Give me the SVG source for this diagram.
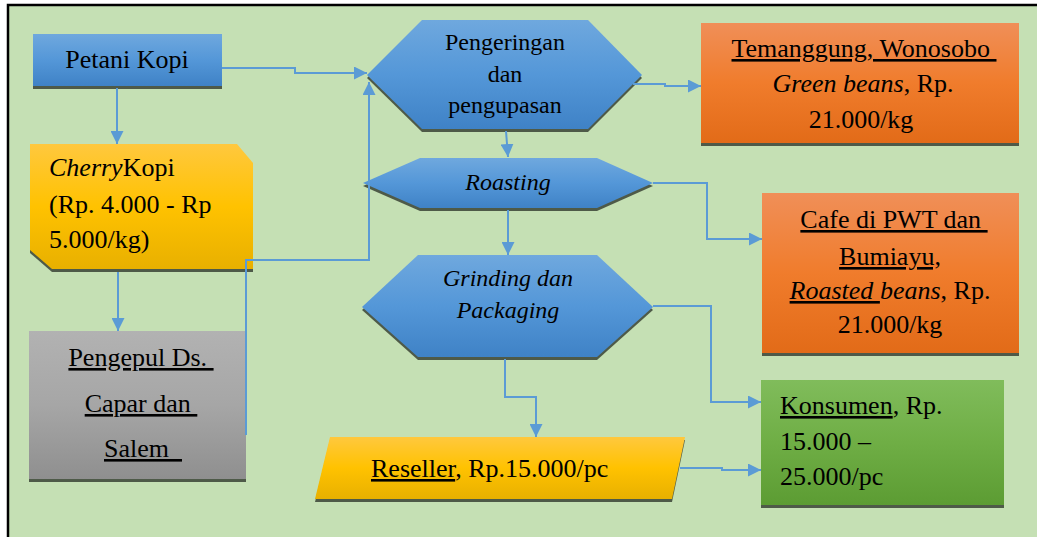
<svg xmlns="http://www.w3.org/2000/svg" width="1037" height="537" viewBox="0 0 1037 537">
<defs>
<linearGradient id="gBlue" x1="0" y1="0" x2="0" y2="1"><stop offset="0" stop-color="#6fa8de"/><stop offset="0.5" stop-color="#5497d8"/><stop offset="1" stop-color="#3f82c6"/></linearGradient>
<linearGradient id="gOrange" x1="0" y1="0" x2="0" y2="1"><stop offset="0" stop-color="#f08f58"/><stop offset="0.5" stop-color="#f07c2c"/><stop offset="1" stop-color="#e26b18"/></linearGradient>
<linearGradient id="gYellow" x1="0" y1="0" x2="0" y2="1"><stop offset="0" stop-color="#ffc83e"/><stop offset="0.5" stop-color="#ffc200"/><stop offset="1" stop-color="#e8b000"/></linearGradient>
<linearGradient id="gGray" x1="0" y1="0" x2="0" y2="1"><stop offset="0" stop-color="#b2b2b2"/><stop offset="0.5" stop-color="#a6a6a6"/><stop offset="1" stop-color="#8f8f8f"/></linearGradient>
<linearGradient id="gGreen" x1="0" y1="0" x2="0" y2="1"><stop offset="0" stop-color="#80bc5b"/><stop offset="0.5" stop-color="#6fae45"/><stop offset="1" stop-color="#5c9c33"/></linearGradient>
<marker id="arr" markerUnits="userSpaceOnUse" markerWidth="13" markerHeight="13" refX="13" refY="6.5" orient="auto"><path d="M0,0 L13,6.5 L0,13 z" fill="#5b9bd5"/></marker>
<style>
.sh{fill:#4e5a48}
.t{font-family:'Liberation Serif','DejaVu Serif Condensed','DejaVu Serif',serif;font-size:26px;fill:#000;white-space:pre}
.h{font-size:24px}
.i{font-style:italic}
.u{text-decoration:underline}
.c{fill:none;stroke:#5b9bd5;stroke-width:2;marker-end:url(#arr)}
</style>
</defs>
<rect x="0" y="0" width="1037" height="537" fill="#ffffff"/>
<rect x="8" y="5" width="1040" height="545" fill="#c5e0b4" stroke="#000" stroke-width="2.5"/>

<g id="petani">
<rect class="sh" x="33" y="37" width="189" height="52"/>
<rect x="33" y="34" width="189" height="52" fill="url(#gBlue)"/>
<text class="t" x="127" y="68" text-anchor="middle">Petani Kopi</text>
</g>

<g id="cherry">
<polygon class="sh" points="30,147 237,147 253,166 253,272 52,272 30,253"/>
<polygon points="30,144 237,144 253,163 253,269 52,269 30,250" fill="url(#gYellow)"/>
<text class="t" x="49" y="176"><tspan class="i">Cherry</tspan>Kopi</text>
<text class="t" x="49" y="213">(Rp. 4.000 - Rp</text>
<text class="t" x="49" y="248">5.000/kg)</text>
</g>

<g id="pengepul">
<rect class="sh" x="29" y="334" width="217" height="148"/>
<rect x="29" y="331" width="217" height="148" fill="url(#gGray)"/>
<text class="t" x="141" y="366" text-anchor="middle"><tspan class="u">Pengepul Ds. </tspan></text>
<text class="t" x="141" y="412" text-anchor="middle"><tspan class="u">Capar dan </tspan></text>
<text class="t" x="143" y="457" text-anchor="middle"><tspan class="u">Salem  </tspan></text>
</g>

<g id="pengeringan">
<polygon class="sh" points="367,78 422,23 588,23 642,78 588,132 422,132"/>
<polygon points="367,75 422,20 588,20 642,75 588,129 422,129" fill="url(#gBlue)"/>
<text class="t h" x="505" y="50" text-anchor="middle">Pengeringan</text>
<text class="t h" x="505" y="82" text-anchor="middle">dan</text>
<text class="t h" x="505" y="113" text-anchor="middle">pengupasan</text>
</g>

<g id="roasting">
<polygon class="sh" points="363,186 420,161 597,161 653,186 597,211 420,211"/>
<polygon points="363,183 420,158 597,158 653,183 597,208 420,208" fill="url(#gBlue)"/>
<text class="t h i" x="508" y="190" text-anchor="middle">Roasting</text>
</g>

<g id="grinding">
<polygon class="sh" points="362,310 418,258 597,258 653,310 597,360 418,360"/>
<polygon points="362,307 418,255 597,255 653,307 597,357 418,357" fill="url(#gBlue)"/>
<text class="t h i" x="508" y="286" text-anchor="middle">Grinding dan</text>
<text class="t h i" x="508" y="318" text-anchor="middle">Packaging</text>
</g>

<g id="reseller">
<polygon class="sh" points="330,440 685,440 672,502 315,502"/>
<polygon points="330,437 685,437 672,499 315,499" fill="url(#gYellow)"/>
<text class="t" x="371" y="477"><tspan class="u">Reseller</tspan>, Rp.15.000/pc</text>
</g>

<g id="temanggung">
<rect class="sh" x="701" y="26" width="318" height="120"/>
<rect x="701" y="23" width="318" height="120" fill="url(#gOrange)"/>
<text class="t" x="864" y="57" text-anchor="middle"><tspan class="u">Temanggung, Wonosobo </tspan></text>
<text class="t" x="863" y="92" text-anchor="middle"><tspan class="i">Green beans</tspan>, Rp.</text>
<text class="t" x="861" y="128" text-anchor="middle">21.000/kg</text>
</g>

<g id="cafe">
<rect class="sh" x="762" y="196" width="257" height="160"/>
<rect x="762" y="193" width="257" height="160" fill="url(#gOrange)"/>
<text class="t" x="894" y="228" text-anchor="middle"><tspan class="u">Cafe di PWT dan </tspan></text>
<text class="t" x="890" y="265" text-anchor="middle"><tspan class="u">Bumiayu,</tspan></text>
<text class="t" x="890" y="299" text-anchor="middle"><tspan class="i u">Roasted </tspan><tspan class="i">beans</tspan>, Rp.</text>
<text class="t" x="890" y="333" text-anchor="middle">21.000/kg</text>
</g>

<g id="konsumen">
<rect class="sh" x="761" y="383" width="243" height="125"/>
<rect x="761" y="380" width="243" height="125" fill="url(#gGreen)"/>
<text class="t" x="780" y="414"><tspan class="u">Konsumen</tspan>, Rp.</text>
<text class="t" x="780" y="450">15.000 –</text>
<text class="t" x="780" y="485">25.000/pc</text>
</g>

<g id="connectors">
<path class="c" d="M222,68 H295 V73 H367"/>
<path class="c" d="M117,88 V144"/>
<path class="c" d="M118,272 V331"/>
<path class="c" d="M246,435 V260 H369 V82"/>
<path class="c" d="M633,84 H665 V86 H701"/>
<path class="c" d="M506,131 L508,157"/>
<path class="c" d="M508,210 V255"/>
<path class="c" d="M653,183 H707 V239 H762"/>
<path class="c" d="M505,359 V397 H536 V437"/>
<path class="c" d="M653,306 H711 V402 H761"/>
<path class="c" d="M680,468 H722 V470 H761"/>
</g>
</svg>
